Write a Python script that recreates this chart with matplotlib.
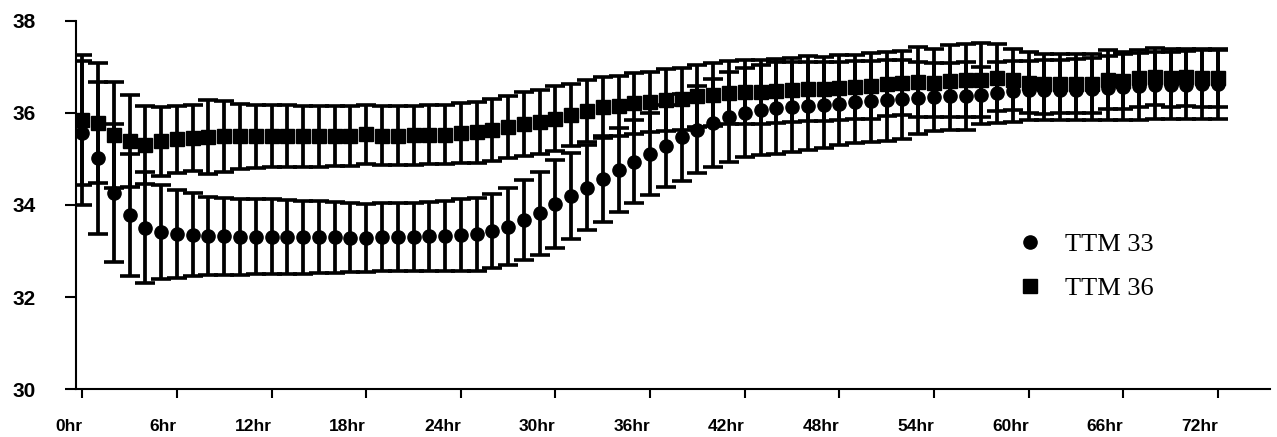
import numpy as np
import matplotlib.pyplot as plt
from matplotlib.lines import Line2D

# hours after start, one reading every hour
hours = list(range(0, 73))
tick_hours = list(range(0, 73, 6))
tick_labels = [str(h) + "hr" for h in tick_hours]

# TTM 33 group: mean temperature and SD
ttm33_mean = [
    35.57, 35.02, 34.27, 33.78, 33.51, 33.42, 33.37, 33.35, 33.33, 33.32,
    33.31, 33.31, 33.31, 33.30, 33.30, 33.30, 33.30, 33.29, 33.29, 33.30,
    33.30, 33.31, 33.32, 33.32, 33.35, 33.36, 33.44, 33.53, 33.67, 33.82,
    34.02, 34.20, 34.38, 34.57, 34.76, 34.94, 35.11, 35.29, 35.47, 35.64,
    35.78, 35.92, 36.01, 36.07, 36.10, 36.13, 36.15, 36.17, 36.20, 36.24,
    36.26, 36.28, 36.30, 36.32, 36.35, 36.36, 36.37, 36.39, 36.44, 36.47,
    36.49, 36.50, 36.50, 36.51, 36.52, 36.54, 36.56, 36.58, 36.60, 36.60,
    36.61, 36.62, 36.62]
ttm33_sd = [
    1.57, 1.65, 1.50, 1.32, 1.20, 1.02, 0.95, 0.90, 0.85, 0.84,
    0.83, 0.82, 0.82, 0.80, 0.79, 0.78, 0.77, 0.75, 0.74, 0.74,
    0.74, 0.74, 0.75, 0.76, 0.78, 0.79, 0.80, 0.83, 0.87, 0.90,
    0.95, 0.94, 0.92, 0.94, 0.92, 0.90, 0.89, 0.89, 0.95, 0.95,
    0.95, 0.98, 0.96, 0.98, 1.00, 0.98, 0.96, 0.93, 0.90, 0.89,
    0.88, 0.88, 0.86, 0.78, 0.74, 0.73, 0.73, 0.62, 0.66, 0.66,
    0.65, 0.65, 0.65, 0.66, 0.68, 0.70, 0.72, 0.73, 0.73, 0.73,
    0.74, 0.75, 0.75]

# TTM 36 group: mean temperature and SD
ttm36_mean = [
    35.85, 35.78, 35.52, 35.39, 35.30, 35.39, 35.43, 35.46, 35.48, 35.49,
    35.49, 35.49, 35.50, 35.50, 35.49, 35.49, 35.50, 35.50, 35.54, 35.51,
    35.51, 35.52, 35.53, 35.53, 35.57, 35.58, 35.63, 35.70, 35.76, 35.81,
    35.88, 35.96, 36.04, 36.12, 36.15, 36.21, 36.24, 36.28, 36.31, 36.37,
    36.40, 36.44, 36.46, 36.46, 36.48, 36.50, 36.53, 36.52, 36.55, 36.57,
    36.59, 36.63, 36.65, 36.68, 36.65, 36.70, 36.71, 36.72, 36.77, 36.72,
    36.66, 36.63, 36.64, 36.64, 36.64, 36.72, 36.70, 36.75, 36.79, 36.76,
    36.78, 36.76, 36.76]
ttm36_sd = [
    1.42, 1.30, 1.15, 1.00, 0.85, 0.75, 0.73, 0.72, 0.80, 0.78,
    0.70, 0.68, 0.67, 0.67, 0.67, 0.66, 0.66, 0.66, 0.64, 0.65,
    0.65, 0.64, 0.64, 0.64, 0.65, 0.66, 0.67, 0.68, 0.69, 0.70,
    0.70, 0.68, 0.67, 0.66, 0.66, 0.66, 0.66, 0.67, 0.67, 0.67,
    0.68, 0.68, 0.69, 0.69, 0.70, 0.70, 0.70, 0.70, 0.70, 0.70,
    0.71, 0.70, 0.70, 0.76, 0.74, 0.78, 0.80, 0.80, 0.72, 0.66,
    0.66, 0.66, 0.64, 0.64, 0.64, 0.64, 0.62, 0.62, 0.62, 0.62,
    0.62, 0.62, 0.62]

# tick labels are bold Arial-like
plt.rcParams["font.family"] = "Liberation Sans"
plt.rcParams["font.weight"] = "bold"

fig = plt.figure(figsize=(12.77, 4.37), dpi=100)
ax = fig.add_axes([0.0595, 0.1098, 0.935, 0.8422])

bar_style = dict(color="black", ecolor="black", elinewidth=2.7, capsize=7,
                 capthick=2.6, linestyle="none")

# circles first so the squares sit on top where they overlap
ax.errorbar(hours, ttm33_mean, yerr=ttm33_sd, marker="o", markersize=9.5, **bar_style)
ax.errorbar(hours, ttm36_mean, yerr=ttm36_sd, marker="s", markersize=9.5, **bar_style)

ax.set_xlim(-0.4, 75.3)
ax.set_ylim(30, 38)
ax.set_xticks(tick_hours)
# labels sit to the left of their tick, right edge on the tick
ax.set_xticklabels(tick_labels, ha="right")
ax.set_yticks([30, 32, 34, 36, 38])

for side in ["top", "right"]:
    ax.spines[side].set_visible(False)
for side in ["left", "bottom"]:
    ax.spines[side].set_linewidth(1.5)

ax.tick_params(axis="y", direction="out", length=8, width=1.5, pad=21, labelsize=15)
ax.tick_params(axis="x", direction="out", length=6.5, width=1.5, pad=15, labelsize=12.5)

# legend shows only the markers, in a Times-like font
handles = [Line2D([], [], color="black", marker="o", markersize=9.5, linestyle="none"),
           Line2D([], [], color="black", marker="s", markersize=9.5, linestyle="none")]
ax.legend(handles, ["TTM 33", "TTM 36"], loc="upper left",
          bbox_to_anchor=(0.779, 0.453), borderaxespad=0, frameon=False,
          handlelength=1.0, handletextpad=0.85, labelspacing=0.77,
          prop={"family": "Liberation Serif", "size": 19, "weight": "normal"})

fig.savefig("out.png", dpi=100)
